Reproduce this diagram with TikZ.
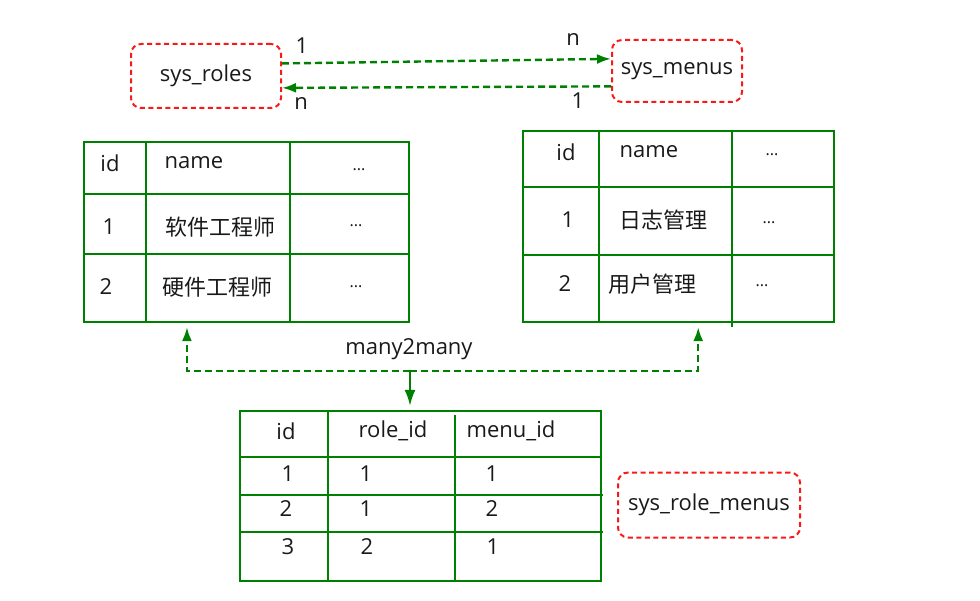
\documentclass[tikz,border=0pt]{standalone}
\usepackage{fontspec}
\setmainfont{Open Sans}
\newfontfamily\cjk{Noto Sans CJK SC}
\usetikzlibrary{calc}
\usetikzlibrary{arrows.meta}

\definecolor{tgreen}{RGB}{0,128,0}
\definecolor{tred}{RGB}{250,25,25}

\begin{document}
\begin{tikzpicture}[x=1pt, y=-1pt, >={Latex[length=14pt,width=10pt]}]

  % ---------- Styling ----------
  \tikzset{
    tablebox/.style={draw=tgreen, line width=2.2pt, inner sep=0pt},
    gridline/.style={draw=tgreen, line width=2.2pt},
    namebox/.style={draw=tred, line width=2pt, dash pattern=on 5pt off 3.5pt,
      rounded corners=10pt, inner sep=0pt, text=black!90, font=\fontsize{22}{26}\selectfont},
    rel/.style={draw=tgreen, line width=2.4pt, dash pattern=on 7pt off 4pt, ->},
    feed/.style={draw=tgreen, line width=2.2pt, ->, >={Latex[length=16pt,width=11pt]}},
    cell/.style={inner sep=0pt, text=black!90, font=\fontsize{22}{26}\selectfont},
    hanzi/.style={cell, font=\cjk\fontsize{22}{26}\selectfont},
    dots/.style={cell, font=\fontsize{16}{18}\selectfont}
  }

  \useasboundingbox (0,0) rectangle (980,601);

  % ---------- Table names ----------
  \node[namebox, minimum width=150pt, minimum height=64pt] (sysroles) at (206,76) {sys\_roles};
  \node[namebox, minimum width=130pt, minimum height=62pt] (sysmenus) at (677,71) {sys\_menus};
  \node[namebox, minimum width=182pt, minimum height=65pt] (sysrolemenus) at (709,505) {sys\_role\_menus};

  % ---------- 1 : n relations ----------
  \draw[rel] ($(sysroles.north east)!0.31!(sysroles.south east)$)
    -- ($(sysmenus.north west)!0.31!(sysmenus.south west)$);
  \draw[rel] ($(sysmenus.north west)!0.74!(sysmenus.south west)$)
    -- ($(sysroles.north east)!0.68!(sysroles.south east)$);
  \node[cell] (oneA) at (302,46) {1};
  \node[cell] (manyA) at (573,40) {n};
  \node[cell] (manyB) at (301,104) {n};
  \node[cell] (oneB) at (578,101) {1};

  % ---------- sys_roles table ----------
  \node[tablebox, minimum width=325pt, minimum height=180pt] (roles) at (246.5,232) {};
  \draw[gridline] (146,142) -- (146,322);
  \draw[gridline] (290,142) -- (290,322);
  \draw[gridline] (84,194) -- (409,194);
  \draw[gridline] (84,254) -- (409,254);
  \node[cell] (rid) at (110,163) {id};
  \node[cell] (rname) at (194,163) {name};
  \node[dots] (rmore) at (359,170) {...};
  \node[cell] (rone) at (109,227) {1};
  \node[hanzi] (rsoft) at (220,227) {软件工程师};
  \node[dots] (rmoreA) at (356,226) {...};
  \node[cell] (rtwo) at (106,287) {2};
  \node[hanzi] (rhard) at (217,287) {硬件工程师};
  \node[dots] (rmoreB) at (356,287) {...};

  % ---------- sys_menus table ----------
  \node[tablebox, minimum width=311pt, minimum height=191pt] (menus) at (678.5,226.5) {};
  \draw[gridline] (599,131) -- (599,322);
  \draw[gridline] (732,131) -- (732,327);
  \draw[gridline] (523,187) -- (834,187);
  \draw[gridline] (523,255) -- (834,255);
  \node[cell] (mid) at (566,152) {id};
  \node[cell] (mname) at (649,152) {name};
  \node[dots] (mmore) at (772,155) {...};
  \node[cell] (mone) at (568,220) {1};
  \node[hanzi] (mlog) at (663,220) {日志管理};
  \node[dots] (mmoreA) at (769,223) {...};
  \node[cell] (mtwo) at (565,284) {2};
  \node[hanzi] (muser) at (652,284) {用户管理};
  \node[dots] (mmoreB) at (762,286) {...};

  % ---------- sys_role_menus table ----------
  \node[tablebox, minimum width=361pt, minimum height=170pt] (rolemenus) at (420.5,496) {};
  \draw[gridline] (328,411) -- (328,581);
  \draw[gridline] (455,415) -- (455,581);
  \draw[gridline] (240,457) -- (601,457);
  \draw[gridline] (240,495) -- (603,495);
  \draw[gridline] (240,532) -- (603,532);
  \node[cell] (jid) at (286,431) {id};
  \node[cell] (jrole) at (393,431) {role\_id};
  \node[cell] (jmenu) at (511,431) {menu\_id};
  \node[cell] (jidA) at (288,474) {1};
  \node[cell] (jroleA) at (366,474) {1};
  \node[cell] (jmenuA) at (492,474) {1};
  \node[cell] (jidB) at (286,509) {2};
  \node[cell] (jroleB) at (366,509) {1};
  \node[cell] (jmenuB) at (492,509) {2};
  \node[cell] (jidC) at (288,547) {3};
  \node[cell] (jroleC) at (367,547) {2};
  \node[cell] (jmenuC) at (493,547) {1};

  % ---------- many2many link ----------
  \coordinate (split) at (410,371);
  \node[cell] (many) at (409,349) {many2many};
  \draw[rel, shorten >=4pt] (split) -| ($(roles.south west)!0.318!(roles.south east)$);
  \draw[rel, shorten >=4pt] (split) -| ($(menus.south west)!0.563!(menus.south east)$);
  \draw[feed, shorten >=4pt] (split) -- (split |- rolemenus.north);

\end{tikzpicture}
\end{document}
